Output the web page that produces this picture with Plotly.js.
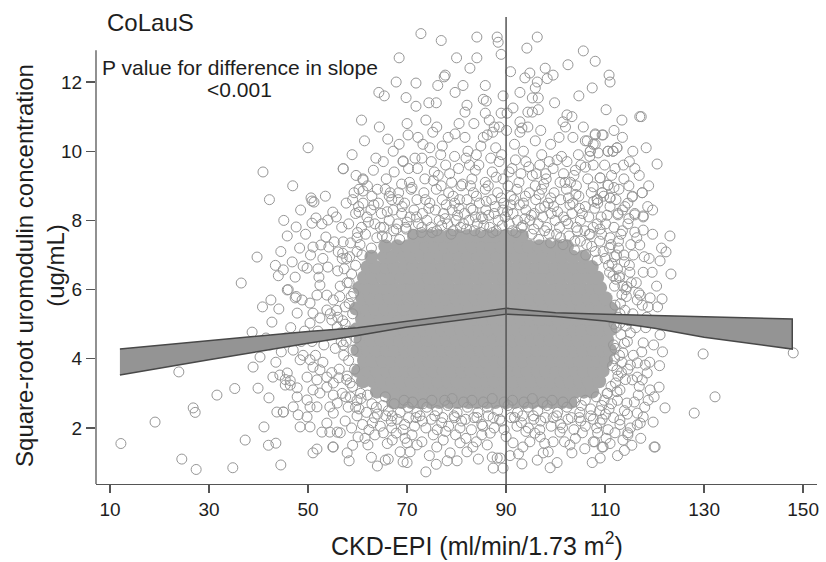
<!DOCTYPE html>
<html><head><meta charset="utf-8">
<script src="https://cdn.plot.ly/plotly-3.0.1.min.js"></script>
<style>html,body{margin:0;padding:0;background:#fff}#chart{width:826px;height:562px}</style>
</head><body><div id="chart"></div>
<script>
// ---------------- data ----------------
const xTicks = [10,30,50,70,90,110,130,150];
const yTicks = [2,4,6,8,10,12];
const knot = 90;

// confidence bands of the piecewise linear fit (split at eGFR 90)
const bandLeftX     = [12, 30, 50, 60, 70, 80, 90];
const bandLeftUpper = [4.28,4.52,4.79,4.90,5.08,5.27,5.46];
const bandLeftLower = [3.53,3.97,4.45,4.67,4.92,5.11,5.29];
const bandRightX     = [90, 100, 110, 120, 130, 140, 147.8];
const bandRightUpper = [5.46,5.33,5.29,5.25,5.21,5.18,5.15];
const bandRightLower = [5.29,5.22,5.09,4.88,4.62,4.43,4.28];

// saturated core of the cloud: one y level per row, with the eGFR values of that row
const coreRowY = [2.75,3.05,3.35,3.65,3.95,4.25,4.55,4.85,5.15,5.45,5.75,6.05,6.35,6.65,6.95,7.25,7.55];
const coreRowX = [
 [67.2,68.9,70.9,72.6,74.8,76.5,78.5,80.2,82.4,84.1,86.1,87.8,90.0,91.7,93.7,95.4,97.6,99.3,101.3,103.0],
 [63.9,66.0,67.7,69.9,71.5,73.6,75.3,77.5,79.1,81.2,82.9,85.1,86.7,88.8,90.5,92.7,94.3,96.4,98.1,100.3,101.9,104.0,105.7,107.4],
 [61.1,63.2,64.9,67.0,68.7,70.8,72.5,74.6,76.3,78.4,80.1,82.2,83.9,86.0,87.7,89.8,91.5,93.6,95.3,97.4,99.1,101.2,102.9,105.0,106.7,108.8],
 [60.1,62.2,63.9,66.0,67.7,69.8,71.5,73.6,75.3,77.4,79.1,81.2,82.9,85.0,86.7,88.8,90.5,92.6,94.3,96.4,98.1,100.2,101.9,104.0,105.7,107.8,109.5],
 [61.3,63.0,65.1,66.8,68.9,70.6,72.7,74.4,76.5,78.2,80.3,82.0,84.1,85.8,87.9,89.6,91.7,93.4,95.5,97.2,99.3,101.0,103.1,104.8,106.9,108.6,110.2],
 [60.0,62.1,63.8,65.9,67.6,69.7,71.4,73.5,75.2,77.3,79.0,81.1,82.8,84.9,86.6,88.7,90.4,92.5,94.2,96.3,98.0,100.1,101.8,103.9,105.6,107.7,109.4,111.0],
 [60.6,62.7,64.8,66.5,68.6,70.3,72.4,74.1,76.2,77.9,80.0,81.7,83.8,85.5,87.6,89.3,91.4,93.1,95.2,96.9,99.0,100.7,102.8,104.5,106.6,108.3,110.4],
 [59.8,61.9,63.6,65.7,67.4,69.5,71.2,73.3,75.0,77.1,78.8,80.9,82.6,84.7,86.4,88.5,90.2,92.3,94.0,96.1,97.8,99.9,101.6,103.7,105.4,107.5,109.2,111.1],
 [60.9,62.6,64.7,66.4,68.5,70.2,72.3,74.0,76.1,77.8,79.9,81.6,83.7,85.4,87.5,89.2,91.3,93.0,95.1,96.8,98.9,100.6,102.7,104.4,106.5,108.2,110.3],
 [59.7,61.8,63.5,65.6,67.3,69.4,71.1,73.2,74.9,77.0,78.7,80.8,82.5,84.6,86.3,88.4,90.1,92.2,93.9,96.0,97.7,99.8,101.5,103.6,105.3,107.4,109.1,111.2],
 [61.0,62.7,64.8,66.5,68.6,70.3,72.4,74.1,76.2,77.9,80.0,81.7,83.8,85.5,87.6,89.3,91.4,93.1,95.2,96.9,99.0,100.7,102.8,104.5,106.6,108.3,110.1],
 [60.4,61.7,63.4,65.5,67.2,69.3,71.0,73.1,74.8,76.9,78.6,80.7,82.4,84.5,86.2,88.3,90.0,92.1,93.8,95.9,97.6,99.7,101.4,103.5,105.2,107.3,109.0],
 [61.3,63.0,65.1,66.8,68.9,70.6,72.7,74.4,76.5,78.2,80.3,82.0,84.1,85.8,87.9,89.6,91.7,93.4,95.5,97.2,99.3,101.0,103.1,104.8,106.9,108.4],
 [62.0,63.7,65.8,67.5,69.6,71.3,73.4,75.1,77.2,78.9,81.0,82.7,84.8,86.5,88.6,90.3,92.4,94.1,96.2,97.9,100.0,101.7,103.8,105.5,107.3],
 [62.8,65.4,67.1,69.2,70.9,73.0,74.7,76.8,78.5,80.6,82.3,84.4,86.1,88.2,89.9,92.0,93.7,95.8,97.5,99.6,101.3,103.4,105.6],
 [65.6,68.0,70.1,71.8,73.9,75.6,77.7,79.4,81.5,83.2,85.3,87.0,89.1,90.8,92.9,94.6,96.7,98.4,100.5,102.3],
 [71.4,73.1,74.7,76.4,78.5,80.2,82.3,84.0,86.1,87.8,89.9,91.6,93.2]
];

// individually visible circles: [eGFR, sqrt uromodulin]
const ringEdge = [
 [60.5,7.3],[61.6,7.6],[62.8,7.2],[63.9,7.5],[64.6,7.8],[65.9,7.5],[67.3,7.7],[68.5,7.45],[69.8,7.75],[71.2,7.6],[73.0,7.8],[75.1,7.65],[77.0,7.85],[79.3,7.7],[81.4,7.9],[83.6,7.7],[85.5,7.85],[87.3,7.65],[89.2,7.85],[91.3,7.7],[93.4,7.85],[95.2,7.6],[96.6,7.45],[97.8,7.7],[99.0,7.35],[100.2,7.6],[101.5,7.3],[102.7,7.55],[103.8,7.15],[105.0,7.4],[106.1,7.0],[107.3,7.25],[108.4,6.85],[109.6,7.1],[110.7,6.7],[111.9,6.95],[104.4,7.7],[106.8,7.6],[108.9,7.4],[110.9,7.2],[112.5,6.6],
 [60.0,7.65],[62.2,7.95],[63.3,8.45],[65.0,7.55],[66.0,8.25],[67.8,7.75],[69.0,8.4],[70.0,7.95],[71.9,8.1],[72.9,7.65],[74.4,8.35],[76.0,7.7],[77.7,8.05],[78.9,7.6],[80.5,8.35],[82.0,7.75],[83.8,8.1],[84.9,7.65],[86.5,8.15],[88.0,7.7],[89.8,8.1],[91.0,8.45],[92.0,7.65],[93.8,8.05],[95.6,7.75],[96.9,8.35],[98.7,7.6],[99.6,8.4],[101.0,7.5],[102.1,8.0],[103.9,7.4],[104.8,8.35],[106.3,7.3],[107.0,7.6],[108.0,7.1],[109.0,7.75],[110.0,6.9],[111.2,7.3],[112.2,6.3],[113.8,7.0],[68.2,8.6],[73.7,8.6],[80.6,8.6],[86.0,8.55],[91.6,8.6],[96.7,8.75],[102.6,8.65],[107.7,8.55],[64.0,8.9],[75.3,9.15],[82.8,9.0],[90.6,9.4],[96.1,9.35],[101.9,9.1],
 [58.5,2.9],[59.6,2.6],[60.7,2.85],[61.8,2.45],[62.9,2.7],[64.0,2.4],[65.1,2.65],[66.2,2.5],[67.4,2.7],[68.6,2.45],[70.2,2.6],[72.0,2.45],[74.0,2.6],[76.1,2.5],[78.2,2.65],[80.1,2.45],[82.2,2.6],[84.3,2.45],[86.2,2.6],[88.3,2.5],[90.4,2.65],[92.3,2.45],[94.4,2.6],[96.4,2.5],[98.3,2.65],[100.4,2.45],[102.3,2.6],[103.8,2.75],[104.9,2.45],[106.0,2.8],[107.1,2.55],[108.2,2.9],[109.3,2.65],[110.4,3.0],[111.3,2.7],[71.1,2.75],[75.0,2.8],[79.1,2.85],[83.1,2.8],[87.2,2.85],[91.3,2.8],[95.3,2.85],[99.3,2.8],[63.0,2.15],[66.8,2.2],[69.5,2.1],[73.1,2.2],[77.0,2.15],[81.0,2.2],[85.1,2.1],[89.1,2.2],[93.1,2.15],[97.0,2.2],[101.0,2.1],[105.1,2.2],[109.0,2.15],
 [60.3,2.55],[62.0,2.95],[63.8,2.6],[65.6,2.9],[67.0,2.35],[69.4,2.8],[71.8,2.3],[73.2,2.7],[75.6,2.35],[77.6,2.8],[79.6,2.3],[81.4,2.75],[83.5,2.3],[85.4,2.75],[87.4,2.3],[89.6,2.75],[91.7,2.3],[93.6,2.75],[95.5,2.35],[97.4,2.75],[99.5,2.3],[101.5,2.75],[103.2,2.3],[105.2,2.65],[107.6,2.25],[108.9,2.5],[110.1,2.4],
 [57.6,2.9],[59.0,3.2],[57.8,3.4],[59.4,3.7],[58.2,3.95],[59.1,4.25],[57.7,4.5],[58.9,4.8],[57.5,5.0],[59.0,5.3],[58.3,5.6],[59.2,5.9],[57.9,6.2],[58.8,6.45],[59.6,6.7],[58.4,6.95],[59.9,7.1],[57.0,7.05],[56.4,5.8],[56.6,4.75],[56.2,3.45],[60.6,3.0],[60.9,7.0],
 [58.6,7.35],[59.9,7.5],[57.3,6.6],[58.7,5.8],[59.7,4.6],[58.5,3.3],[59.9,2.8],[56.0,5.2],[57.1,4.4],[56.9,6.9],
 [111.2,3.2],[112.6,3.5],[111.5,3.8],[112.9,4.1],[111.7,4.4],[113.2,4.7],[111.8,5.0],[113.0,5.3],[112.0,5.55],[113.4,5.85],[111.9,6.1],[112.9,6.35],[110.9,6.5],[114.2,4.95],[114.6,3.7],[114.9,6.7],[110.5,3.0],[109.8,2.8],[114.3,5.8],[111.4,6.75],
 [111.6,6.4],[112.6,5.2],[111.9,4.0],[112.4,3.05],[110.8,2.55],[113.6,6.1],[113.9,4.45],[112.7,7.2],[113.3,3.6],[114.8,5.1]
];

const ringUpper = [
 [58.2,7.9],[59.6,8.2],[60.8,7.8],[61.9,8.1],[62.7,8.3],[63.5,7.9],[64.8,8.2],[65.3,7.8],[66.4,8.0],[67.2,8.3],[68.1,7.9],[68.9,8.2],[69.7,7.8],[70.6,8.1],[71.4,8.3],[72.3,7.9],[73.1,8.2],[74.0,8.0],[74.8,7.8],[75.7,8.3],[76.5,8.0],[77.4,8.2],[78.2,7.9],[79.1,8.3],[79.9,8.0],[80.8,7.8],[81.6,8.2],[82.5,8.0],[83.3,8.3],[84.2,7.9],[85.0,8.1],[85.9,8.3],[86.7,7.8],[87.6,8.2],[88.4,8.0],[89.3,8.3],[90.6,7.9],[91.4,8.2],[92.3,8.0],[93.1,7.8],[94.0,8.3],[94.8,8.0],[95.7,8.2],[96.5,7.9],[97.4,8.1],[98.2,7.8],[99.1,8.2],[99.9,8.0],[100.8,7.8],[101.6,8.1],[102.5,7.9],[103.3,8.2],[104.2,7.8],[105.0,8.0],[105.9,7.7],[106.7,8.1],[107.6,7.8],[108.4,7.9],[109.3,7.6],[110.1,7.9],[111.0,7.5],[111.8,7.8],[112.7,7.4],[113.5,7.7],
 [59.0,8.6],[60.3,8.9],[61.1,8.5],[62.9,8.7],[64.2,8.5],[65.6,8.9],[66.9,8.6],[68.3,8.8],[69.5,8.5],[70.8,8.9],[72.0,8.6],[73.4,8.8],[74.6,8.5],[75.9,8.9],[77.1,8.6],[78.4,8.8],[79.6,8.5],[80.9,9.0],[82.1,8.6],[83.4,8.8],[84.6,8.5],[85.8,8.9],[87.1,8.6],[88.3,8.8],[89.5,8.5],[91.0,8.7],[92.2,8.9],[93.5,8.5],[94.7,8.8],[96.0,8.6],[97.2,8.9],[98.5,8.5],[99.7,8.8],[101.0,8.6],[102.2,8.9],[103.5,8.5],[104.7,8.7],[106.0,8.4],[107.2,8.8],[108.5,8.5],[109.7,8.7],[111.0,8.4],[112.2,8.6],[113.5,8.3],[114.6,8.5],[116.0,8.2],[117.7,8.1],[112.6,8.2],[115.5,8.7],[117.5,8.8],[108.4,8.6],[111.0,8.65],[109.4,8.8],
 [57.1,9.5],[59.7,9.3],[61.1,9.2],[63.7,9.8],[65.2,9.7],[65.8,9.2],[67.4,9.4],[69.2,9.7],[70.5,9.1],[72.1,9.5],[73.6,9.2],[74.9,9.7],[76.3,9.3],[77.8,9.6],[79.0,9.1],[80.4,9.5],[81.9,9.8],[83.1,9.2],[84.5,9.6],[85.8,9.1],[87.2,9.4],[88.6,9.7],[89.4,9.2],[91.2,9.5],[92.6,9.1],[94.0,9.7],[95.3,9.3],[96.8,9.6],[98.1,9.2],[99.5,9.5],[100.9,9.1],[102.3,9.7],[103.7,9.3],[105.1,9.6],[106.5,9.2],[107.6,9.6],[109.0,9.23],[110.6,9.02],[107.6,8.97],[106.0,9.54],[104.2,9.0],[101.6,9.35],[97.6,9.05],[86.4,9.0],[76.9,9.0],[71.0,8.95],
 [77.9,8.45],[80.2,8.15],[82.9,8.35],[85.3,8.05],[87.8,8.4],[90.3,8.25],[92.7,8.45],[95.1,8.15],[97.8,8.4],[100.4,8.25],[102.9,8.45],[105.4,8.2],[107.9,8.35],[110.4,8.15],[78.6,9.35],[81.2,9.05],[83.8,9.45],[86.9,9.8],[88.0,9.25],[90.4,9.0],[93.0,9.35],[95.9,9.0],[98.7,9.7],[101.2,9.85],[104.0,9.45],[106.9,9.85],[109.9,9.6],[111.3,9.3],[79.3,8.7],[84.0,8.7],[89.0,8.65],[93.9,8.7],[99.0,8.65],[104.1,8.75],[109.2,8.1],[75.5,9.4],[70.3,9.5],[66.6,8.8],[62.0,9.0],[60.2,8.4],
 [68.4,10.2],[67.2,10.0],[70.2,10.47],[72.2,10.4],[74.6,10.1],[76.8,9.9],[78.3,10.4],[79.7,10.5],[81.7,10.4],[82.3,10.0],[85.4,10.4],[86.2,10.47],[87.9,10.1],[89.1,9.9],[91.7,10.2],[93.5,10.0],[95.9,10.3],[97.2,9.9],[99.0,10.2],[100.7,10.4],[103.5,10.4],[106.4,10.3],[108.0,10.47],[109.6,10.47],[108.0,10.2],[107.0,10.0],[110.6,10.0],[111.6,10.0],[112.4,10.1],[104.6,9.9],[84.0,9.9],[73.0,9.8],
 [61.1,9.17],[69.2,9.72],[59.3,8.8],[61.1,8.85],[66.4,8.7],[50.6,8.65],[51.2,8.53],[55.0,8.24],[60.3,8.24],
 [58.9,9.9],[61.4,10.3],[63.2,9.45],[64.4,10.7],[66.1,10.35],[68.9,9.05],[71.6,9.8],[73.2,10.2],[75.2,10.55],[77.1,10.15],[79.6,9.85],[82.6,9.6],[84.9,10.15],[87.3,10.55],[90.1,10.6],[91.9,9.75],[94.6,9.55],[97.0,10.6],[98.0,9.35],[100.3,9.75],[102.0,10.7],[103.0,9.1],[105.6,10.7],[108.6,9.95],[111.8,8.95],[113.7,9.6]
];

const ringTop = [
 [72.8,13.4],[76.9,13.2],[68.4,12.7],[77.5,12.15],[67.8,12.0],[71.8,11.97],[64.3,11.7],[65.4,11.6],[75.9,11.4],[74.4,11.4],[71.8,11.3],[73.8,10.9],
 [84.1,13.3],[88.2,13.3],[88.4,13.15],[89.0,12.8],[84.1,12.7],[82.7,12.4],[77.7,12.2],[79.7,11.7],[81.3,11.9],[85.8,11.9],[85.4,11.5],[86.0,11.45],[82.1,11.33],[81.7,11.13],[89.4,11.6],[90.2,11.1],
 [96.3,13.3],[94.2,12.98],[94.8,12.26],[93.8,12.12],[96.3,12.0],[95.9,11.83],[92.8,11.7],[95.3,11.54],[96.5,11.54],[95.3,11.13],[96.5,11.2],[94.4,11.13],[97.9,12.4],[98.3,12.1],[99.5,12.2],[102.5,12.5],[105.6,12.9],[108.0,12.6],[110.8,12.2],[111.0,12.0],[107.4,11.83],[113.4,10.9],[117.0,11.0],
 [102.3,11.05],[101.5,10.85],[103.3,11.0],[92.8,10.85],[93.2,10.67],[92.8,10.55],[94.4,10.7],[91.4,11.25],[85.8,11.1],[86.6,10.9],[87.6,10.7],[88.6,10.7],[89.0,11.1],[80.5,10.8],[83.5,10.8],[70.0,10.8],[76.0,10.7],
 [110.2,11.2],[104.7,11.6],[99.8,11.4],[90.9,12.3],[80.0,12.7],[76.2,11.9],[69.8,11.55],[60.8,10.9]
];

const ringLower = [
 [51.8,1.39],[55.0,1.45],[57.9,1.28],[64.0,0.9],[65.6,1.07],[66.2,1.1],[70.0,1.0],[69.2,1.02],[73.8,0.73],[78.1,1.05],[80.1,1.05],[87.4,0.84],[89.4,0.84],[88.8,1.13],[93.2,0.96],[96.3,1.07],[97.5,1.28],[100.3,1.0],[103.3,1.28],[107.4,1.0],[109.0,1.13],[114.6,1.8],[119.9,1.45],[107.9,1.6],
 [52.8,1.88],[54.4,1.88],[56.5,1.86],[60.1,1.74],[62.1,1.51],[63.5,1.8],[65.2,1.86],[67.0,1.65],[70.0,1.57],[68.6,1.31],[70.6,1.31],[72.0,1.51],[75.3,1.8],[77.3,1.65],[78.7,1.28],[80.7,1.57],[82.1,1.31],[83.3,1.45],[85.1,1.8],[86.2,1.51],[87.2,1.16],[88.2,1.13],[91.4,1.57],[93.4,1.45],[94.8,1.6],[96.9,1.74],[98.5,1.31],[100.9,1.88],[102.9,1.51],[105.4,1.86],[107.6,1.6],[109.4,1.45],[112.0,1.86],[116.5,2.09],
 [57.5,2.2],[58.8,2.0],[59.9,2.35],[61.0,2.1],[62.3,1.95],[63.4,2.3],[64.6,2.05],[65.7,2.35],[66.9,2.0],[68.0,2.25],[69.2,1.95],[70.3,2.3],[71.5,2.05],[72.6,2.35],[73.8,2.0],[74.9,2.25],[76.1,1.95],[77.2,2.3],[78.4,2.05],[79.5,2.35],[80.7,2.0],[81.8,2.25],[83.0,1.95],[84.1,2.3],[85.3,2.05],[86.4,2.35],[87.6,2.0],[88.7,2.25],[89.6,1.95],[91.0,2.3],[92.2,2.05],[93.3,2.35],[94.5,2.0],[95.6,2.25],[96.8,1.95],[97.9,2.3],[99.1,2.05],[100.2,2.35],[101.4,2.0],[102.5,2.25],[103.7,1.95],[104.8,2.3],[106.0,2.05],[107.1,2.35],[108.3,2.0],[109.4,2.25],[110.6,1.95],[111.7,2.3],[113.0,2.1],[114.5,2.4],
 [61.5,1.7],[67.8,1.85],[73.0,1.6],[76.0,1.45],[79.8,1.8],[84.0,1.6],[90.0,1.75],[95.8,1.85],[99.5,1.6],[104.0,1.7],[108.5,1.85],[111.0,1.55],[71.0,1.8],[92.5,1.25],
 [59.0,1.5],[62.8,1.15],[66.0,1.55],[69.6,1.7],[74.5,1.2],[77.8,1.9],[81.9,1.7],[86.8,1.85],[90.8,1.2],[94.0,1.9],[97.8,1.55],[101.8,1.6],[105.9,1.4],[110.2,1.7],[112.5,1.2],[58.3,1.05],[75.9,0.95],[84.4,1.1],[98.9,0.85]
];

const ringLeft = [
 [50.8,8.56],[51.6,8.07],[54.0,8.01],[50.8,7.92],[47.6,7.81],[45.8,7.55],[53.6,7.52],[55.3,7.38],[57.1,7.38],[51.0,7.23],[52.6,7.29],[54.2,7.23],[56.1,7.09],
 [45.0,6.57],[47.4,6.36],[49.0,6.68],[49.8,6.62],[52.0,6.6],[54.0,6.65],[52.2,6.36],[52.4,6.13],[56.0,6.54],[46.0,6.0],[47.6,5.8],
 [45.8,5.99],[47.4,5.76],[48.8,5.7],[50.4,5.61],[51.8,5.84],[53.8,5.84],[55.1,5.7],[53.8,5.41],[51.0,5.32],[52.4,5.18],[54.8,5.12],[55.9,4.92],[50.4,5.03],[47.8,5.32],
 [47.0,4.25],[48.4,3.97],[50.4,3.97],[51.0,3.76],[52.4,3.68],[49.8,3.47],[51.8,3.39],[53.8,3.47],[55.1,3.3],[45.8,3.59],[44.3,3.53],[42.9,3.47],[45.4,3.24],[46.4,3.24],[47.8,3.16],[51.0,3.1],[52.4,3.01],[53.8,3.18],[55.1,2.95],[55.9,2.72],[47.8,2.9],[49.8,2.81],[47.0,2.61],[50.4,2.61],[51.8,2.61],[54.4,2.61],[55.1,2.43],[45.0,2.46],[48.0,2.38],[49.8,2.32],[48.4,2.03],[50.4,2.03],[53.8,2.14],[55.9,1.88],[51.0,1.28],[55.1,1.45],
 [56.8,7.8],[57.8,6.9],[58.3,6.2],[57.5,5.5],[58.0,4.8],[57.2,4.1],[57.9,3.5],[56.9,3.0],[58.1,2.6],[56.5,6.1],[56.7,4.5],[56.3,3.7],[57.0,5.1],[55.5,4.3],[54.6,4.7],[53.2,4.4],[52.0,4.8],[50.8,4.5],[49.3,4.8],[48.6,4.5],[46.5,4.9],[45.5,4.6],[44.6,4.2],[43.5,3.9],[42.3,4.4],[53.0,3.9],[54.8,3.6],[49.0,4.1],[51.5,4.1],[55.8,5.4],[54.5,5.3],[53.0,6.9],[50.5,7.0],[48.3,7.2],[46.8,6.8],[44.5,7.1],[49.5,7.6],[52.8,7.9],[55.7,8.1],[57.7,8.5],[53.5,8.7],[48.5,8.3],[44.0,6.4],[42.5,5.7],[43.4,6.7],[40.8,5.5],[41.5,4.6],[45.1,8.0],[46.9,9.0],[42.2,8.6]
];

const ringRight = [
 [117.7,7.72],[116.0,7.66],[117.0,7.29],[115.7,7.0],[123.1,7.55],[122.3,7.09],[121.1,6.83],[117.7,6.5],[119.5,6.5],[123.3,6.45],[121.5,5.73],[117.1,5.84],[119.1,5.76],[117.5,5.55],[118.7,5.5],[121.1,4.69],[122.1,2.58],[120.9,3.18],[118.1,3.82],[117.5,3.39],[119.1,3.1],[116.7,2.95],[118.7,2.8],[117.1,2.14],[119.7,2.17],[114.6,1.86],[120.1,1.45],[112.6,8.16],[115.5,8.68],[117.5,8.8],[116.0,8.16],[117.7,8.13],
 [115.1,3.82],[116.5,3.47],[114.4,6.08],[116.5,5.7],[113.0,5.03],[115.1,4.75],[117.7,4.46],[113.6,4.17],[116.5,3.88],[112.4,3.68],[115.5,3.39],[113.0,3.1],[118.5,3.59],[114.4,2.72],[116.5,2.43],[113.0,2.23],[115.1,2.0],[117.7,2.32],[113.6,1.65],[109.6,1.45],
 [112.0,9.5],[113.8,9.2],[114.9,9.7],[112.8,8.9],[114.0,8.4],[113.2,7.6],[114.6,7.9],[115.2,7.3],[113.9,6.8],[115.0,6.5],[116.3,6.2],[114.2,6.0],[112.9,6.4],[112.3,7.0],[113.1,5.6],[115.6,5.3],[114.0,5.4],[112.2,4.9],[114.5,4.5],[112.0,4.3],[113.4,3.9],[112.1,3.3],[114.1,3.4],[112.5,2.8],[113.9,2.5],[118.2,4.9],[119.8,4.4],[119.0,3.9],[120.2,5.1],[118.9,6.9],[120.4,6.1],[119.6,7.6],[118.6,8.4],[116.9,9.3],[115.6,10.0],[113.5,10.4],[111.8,10.6],
 [117.3,11.0],[118.3,10.1],[120.5,9.63],[108.0,10.5],[109.4,10.47],[106.0,10.3],[107.6,10.2],[107.0,10.0],[112.4,10.1],[110.6,10.0],[111.6,10.0],[109.0,9.23],[110.6,9.02],[109.4,8.8],[111.0,8.65],[108.4,8.6],
 [114.8,8.05],[116.4,7.5],[117.9,6.95],[115.3,6.2],[116.8,5.9],[118.4,5.2],[116.2,4.9],[117.4,4.2],[115.7,4.1],[116.9,3.2],[118.0,2.6],[115.9,2.75],[119.9,2.9],[121.0,3.8],[120.6,5.5],[122.0,5.0],[121.6,4.2],[119.6,8.3],[118.8,9.0],[116.0,9.5],[114.8,9.0],[121.4,7.2],[115.4,1.5],[117.2,1.7],[113.9,1.35]
];

const outliers = [
 [12.2,1.55],[19.1,2.17],[24.5,1.1],[27.4,0.8],[26.8,2.58],[27.2,2.45],[31.6,2.95],[35.2,3.14],[34.8,0.85],[37.3,1.65],[39.9,3.15],[41.1,2.03],[42.1,2.87],[42.0,1.5],[43.5,1.56],[44.5,0.93],[43.7,2.46],[45.0,2.46],[45.4,3.4],[46.4,3.37],
 [23.9,3.62],[38.9,3.76],[38.7,4.77],[40.3,4.05],[42.7,5.06],[44.1,5.44],[36.5,6.19],[39.7,6.94],[40.9,9.4],[50.0,10.1],[57.1,9.49],
 [129.8,4.14],[148.0,4.17],[132.2,2.9],[128.0,2.43]
];

// ---------------- build ----------------
const coreX = [], coreY = [];
coreRowX.forEach((row, i) => row.forEach(x => { coreX.push(x); coreY.push(coreRowY[i]); }));
const rings = [].concat(ringEdge, ringUpper, ringTop, ringLower, ringLeft, ringRight, outliers);

const traces = [
 {type:'scatter', mode:'markers', x:coreX, y:coreY, hoverinfo:'skip',
  marker:{symbol:'circle', size:14, color:'rgb(166,166,166)', line:{width:0}}},
 {type:'scatter', mode:'markers', x:rings.map(p=>p[0]), y:rings.map(p=>p[1]), hoverinfo:'skip',
  marker:{symbol:'circle', size:10, color:'rgba(0,0,0,0)', line:{color:'rgb(150,150,150)', width:1}}},
 {type:'scatter', mode:'lines', fill:'toself', fillcolor:'rgb(148,148,148)',
  x:bandLeftX.concat(bandLeftX.slice().reverse()),
  y:bandLeftUpper.concat(bandLeftLower.slice().reverse()),
  line:{color:'rgb(72,72,72)', width:1.5}, hoverinfo:'skip'},
 {type:'scatter', mode:'lines', fill:'toself', fillcolor:'rgb(148,148,148)',
  x:bandRightX.concat(bandRightX.slice().reverse()),
  y:bandRightUpper.concat(bandRightLower.slice().reverse()),
  line:{color:'rgb(72,72,72)', width:1.5}, hoverinfo:'skip'}
];

const axisCol = '#555555';
const F = 'Liberation Sans, Arial, Helvetica, sans-serif';
const layout = {
 width:826, height:562,
 margin:{l:96, r:9, t:17, b:78},
 paper_bgcolor:'#ffffff', plot_bgcolor:'#ffffff',
 showlegend:false,
 font:{family:F, color:'#1e1e1e'},
 xaxis:{range:[7.17,152.8], tickmode:'array', tickvals:xTicks, ticktext:xTicks.map(String),
   ticks:'outside', ticklen:8, tickwidth:1.3, tickcolor:axisCol,
   showline:true, linecolor:axisCol, linewidth:1.3, showgrid:false, zeroline:false,
   tickfont:{size:19, family:F, color:'#1e1e1e'}},
 yaxis:{range:[0.38,13.88], tickmode:'array', tickvals:yTicks, ticktext:yTicks.map(String),
   ticks:'outside', ticklen:9, tickwidth:1.3, tickcolor:axisCol,
   showline:false, showgrid:false, zeroline:false,
   tickfont:{size:19, family:F, color:'#1e1e1e'}},
 shapes:[
  {type:'line', xref:'paper', x0:0, x1:0, yref:'y', y0:0.38, y1:12.92, line:{color:axisCol, width:1.3}, layer:'above'},
  {type:'line', xref:'x', x0:knot, x1:knot, yref:'paper', y0:0, y1:1, line:{color:axisCol, width:1.5}, layer:'above'}
 ],
 annotations:[
  {text:'CoLauS', xref:'paper', yref:'paper', x:0.0125, y:0.9872, xanchor:'left', yanchor:'middle', showarrow:false, font:{size:24, family:F, color:'#1e1e1e'}},
  {text:'P value for difference in slope', xref:'paper', yref:'paper', x:0.1997, y:0.8908, xanchor:'center', yanchor:'middle', showarrow:false, font:{size:21, family:F, color:'#1e1e1e'}},
  {text:'&lt;0.001', xref:'paper', yref:'paper', x:0.1997, y:0.8437, xanchor:'center', yanchor:'middle', showarrow:false, font:{size:21, family:F, color:'#1e1e1e'}},
  {text:'CKD-EPI (ml/min/1.73 m<sup>2</sup>)', xref:'paper', yref:'paper', x:0.5284, y:-0.128, xanchor:'center', yanchor:'middle', showarrow:false, font:{size:25, family:F, color:'#1e1e1e'}},
  {text:'Square-root uromodulin concentration<br>(ug/mL)', xref:'paper', yref:'paper', x:-0.0777, y:0.469, xanchor:'center', yanchor:'middle', textangle:-90, showarrow:false, font:{size:24, family:F, color:'#1e1e1e'}}
 ]
};

Plotly.newPlot('chart', traces, layout, {displayModeBar:false, staticPlot:true});
</script>
</body></html>
